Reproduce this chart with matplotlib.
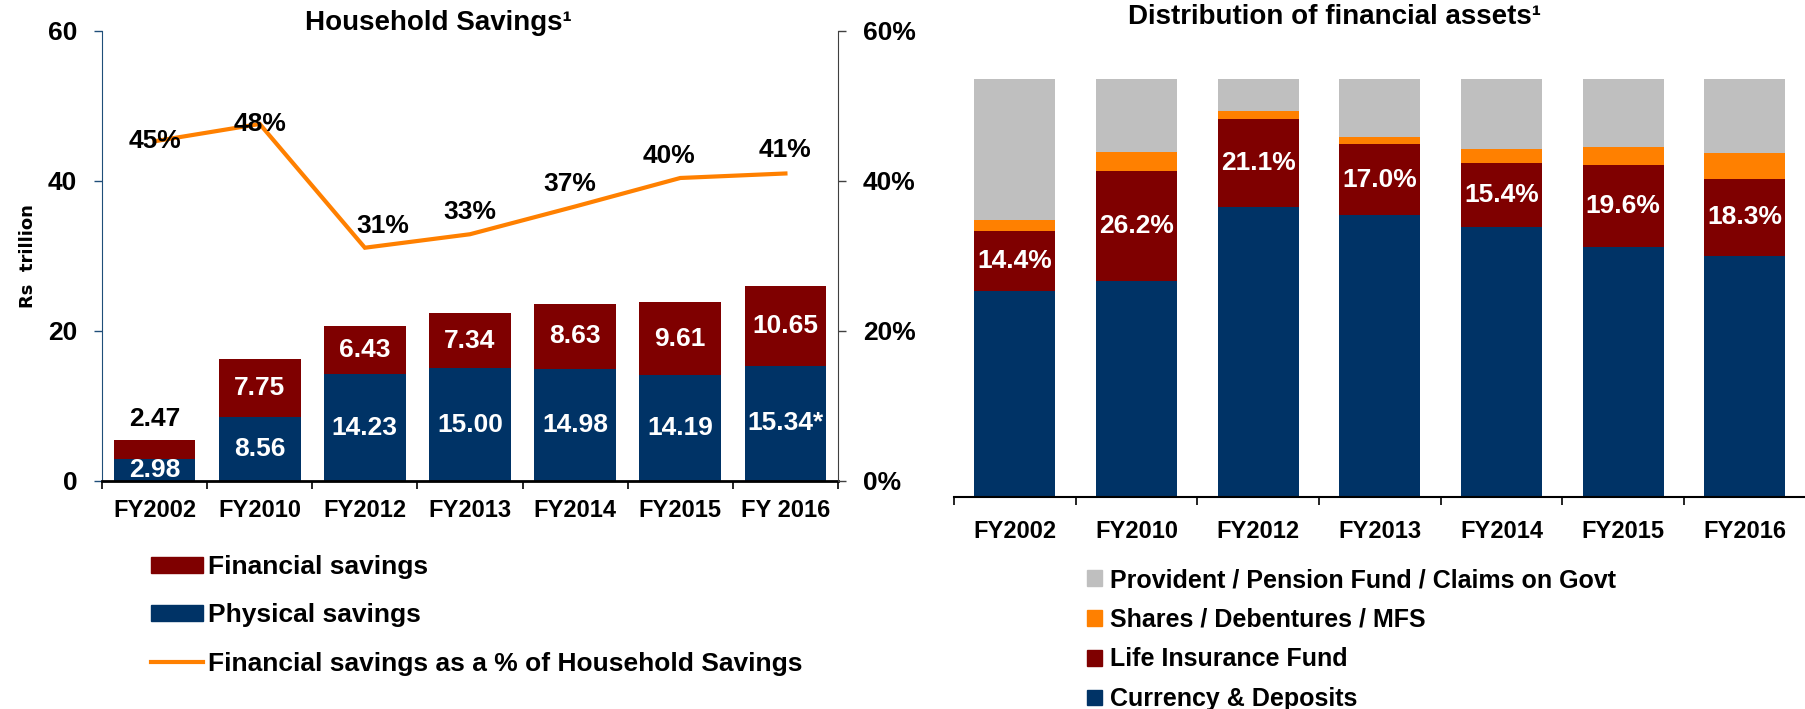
import numpy as np
import matplotlib
matplotlib.use("Agg")
import matplotlib.pyplot as plt
from matplotlib.patches import Patch
from matplotlib.lines import Line2D

plt.rcParams['font.family'] = ['Liberation Sans', 'DejaVu Sans']
plt.rcParams['font.weight'] = 'bold'

# data - household savings (Rs trillion)
years_left = ["FY2002", "FY2010", "FY2012", "FY2013", "FY2014", "FY2015", "FY 2016"]
physical = [2.98, 8.56, 14.23, 15.00, 14.98, 14.19, 15.34]
financial = [2.47, 7.75, 6.43, 7.34, 8.63, 9.61, 10.65]
fin_pct = [45.3, 47.6, 31.1, 32.9, 36.6, 40.4, 41.0]

# data - distribution of financial assets (%)
years_right = ["FY2002", "FY2010", "FY2012", "FY2013", "FY2014", "FY2015", "FY2016"]
currency = [49.2, 51.8, 69.3, 67.4, 64.5, 59.9, 57.8]
life_ins = [14.4, 26.2, 21.1, 17.0, 15.4, 19.6, 18.3]
shares = [2.6, 4.5, 1.9, 1.7, 3.4, 4.2, 6.2]
provident = [33.8, 17.5, 7.7, 13.9, 16.7, 16.3, 17.7]

NAVY = "#003366"
RED = "#7F0000"
ORANGE = "#FF8000"
GREY = "#BFBFBF"

fig = plt.figure(figsize=(18.06, 7.09), dpi=100)

# ---------------- left chart ----------------
ax = fig.add_axes([0.05648, 0.3216, 0.40753, 0.6347])
x = np.arange(len(years_left))
ax.bar(x, physical, width=0.777, color=NAVY, zorder=2)
ax.bar(x, financial, width=0.777, bottom=physical, color=RED, zorder=2)
ax.set_xlim(-0.5, 6.5)
ax.set_ylim(0, 60)
ax.set_yticks([0, 20, 40, 60])
ax.tick_params(axis='y', length=5.8, width=1, color='#1F4E79', pad=12, labelsize=19)
ax.set_xticks(np.arange(-0.5, 7, 1))
ax.set_xticklabels([])
ax.tick_params(axis='x', which='major', length=5.8, width=1.2, direction='out')
ax.set_xticks(x, minor=True)
ax.set_xticklabels(years_left, minor=True, fontsize=17)
ax.tick_params(axis='x', which='minor', length=0, pad=13)
ax.spines['top'].set_visible(False)
ax.spines['right'].set_visible(False)
ax.spines['left'].set_color('#1F4E79')
ax.spines['bottom'].set_linewidth(2)
ax.set_ylabel("Rs  trillion", family='DejaVu Sans', fontsize=13, fontweight='bold')
ax.yaxis.set_label_coords(-0.088, 0.5)

for i in range(len(x)):
    ph_txt = "%.2f" % physical[i]
    if i == len(x) - 1:
        ph_txt += "*"
    ax.text(x[i], physical[i] / 2, ph_txt, ha='center', va='center', color='white', fontsize=19, zorder=3)
    if i == 0:
        ax.text(x[i], physical[i] + financial[i] + 1.2, "%.2f" % financial[i], ha='center', va='bottom',
                color='black', fontsize=19, zorder=3)
    else:
        ax.text(x[i], physical[i] + financial[i] / 2, "%.2f" % financial[i], ha='center', va='center',
                color='white', fontsize=19, zorder=3)

ax2 = ax.twinx()
ax2.set_position(ax.get_position())
ax2.plot(x, fin_pct, color=ORANGE, lw=3, solid_joinstyle='miter', zorder=4)
ax2.set_ylim(0, 60)
ax2.set_yticks([0, 20, 40, 60])
ax2.set_yticklabels(["0%", "20%", "40%", "60%"])
ax2.tick_params(axis='y', length=5.8, width=1, color='#404040', pad=12, labelsize=19)
ax2.spines['right'].set_color('#404040')
ax2.spines['left'].set_visible(False)
ax2.spines['top'].set_visible(False)
ax2.spines['bottom'].set_visible(False)
label_offsets = [(0, 0), (0, 0), (13, 16), (0, 16), (-4, 16), (-8, 16), (0, 17)]
for i in range(len(x)):
    ax2.annotate("%.0f%%" % fin_pct[i], (x[i], fin_pct[i]), xytext=label_offsets[i],
                 textcoords='offset points', ha='center', va='center', fontsize=19, zorder=5)

fig.text(438 / 1806, 1 - 23 / 709, "Household Savings\u00b9", ha='center', va='center', fontsize=20)

leg1 = fig.legend(handles=[Patch(color=RED, label="Financial savings"),
                           Patch(color=NAVY, label="Physical savings"),
                           Line2D([], [], color=ORANGE, lw=3,
                                  label="Financial savings as a % of Household Savings")],
                  loc='upper left', bbox_to_anchor=(151 / 1806, 1 - 555 / 709), frameon=False,
                  fontsize=19, handlelength=1.97, handleheight=0.55, handletextpad=0.2,
                  labelspacing=0.92, borderpad=0, borderaxespad=0)

# ---------------- right chart ----------------
ax3 = fig.add_axes([0.5282, 0.2986, 0.4717, 0.59])
xr = np.arange(len(years_right))
b1 = np.array(currency)
b2 = b1 + np.array(life_ins)
b3 = b2 + np.array(shares)
ax3.bar(xr, currency, width=0.666, color=NAVY)
ax3.bar(xr, life_ins, width=0.666, bottom=b1, color=RED)
ax3.bar(xr, shares, width=0.666, bottom=b2, color=ORANGE)
ax3.bar(xr, provident, width=0.666, bottom=b3, color=GREY)
ax3.set_xlim(-0.5, 6.5)
ax3.set_ylim(0, 100)
ax3.set_yticks([])
for s in ['left', 'right', 'top']:
    ax3.spines[s].set_visible(False)
ax3.spines['bottom'].set_linewidth(1.5)
ax3.set_xticks(np.arange(-0.5, 7, 1))
ax3.set_xticklabels([])
ax3.tick_params(axis='x', which='major', length=5.8, width=1.2, direction='out')
ax3.set_xticks(xr, minor=True)
ax3.set_xticklabels(years_right, minor=True, fontsize=17)
ax3.tick_params(axis='x', which='minor', length=0, pad=16.5)
for i in range(len(xr)):
    ax3.text(xr[i], b1[i] + life_ins[i] / 2, "%.1f%%" % life_ins[i], ha='center', va='center',
             color='white', fontsize=19)

fig.text(1335 / 1806, 1 - 17 / 709, "Distribution of financial assets\u00b9", ha='center', va='center',
         fontsize=20)

leg2 = fig.legend(handles=[Patch(color=GREY, label="Provident / Pension Fund / Claims on Govt"),
                           Patch(color=ORANGE, label="Shares / Debentures / MFS"),
                           Patch(color=RED, label="Life Insurance Fund"),
                           Patch(color=NAVY, label="Currency & Deposits")],
                  loc='upper left', bbox_to_anchor=(1087 / 1806, 1 - 568 / 709), frameon=False,
                  fontsize=18, handlelength=0.6, handleheight=0.6, handletextpad=0.3,
                  labelspacing=0.63, borderpad=0, borderaxespad=0)

fig.savefig("out.png", dpi=100)
